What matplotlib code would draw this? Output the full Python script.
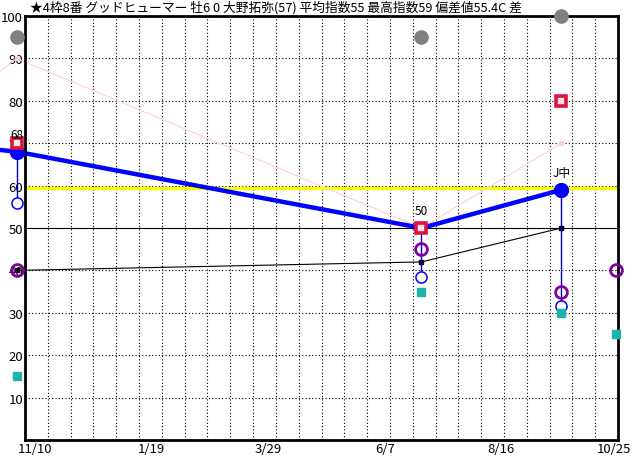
import matplotlib.pyplot as plt
import matplotlib.transforms as mtransforms
import numpy as np

plt.rcParams['font.family'] = ['Noto Sans CJK JP', 'DejaVu Sans']

# day offsets from 11/10
tick_days = [0, 70, 140, 210, 280, 350]
tick_labels = ['11/10', '1/19', '3/29', '6/7', '8/16', '10/25']

race_days = [-11, 232, 316]
idx_main = [68, 50, 59]        # thick blue
idx_low = [56, 38.5, 31.5]     # blue open circles
idx_purple = [40, 45, 35]
idx_black = [40, 42, 50]
idx_teal = [15, 35, 30]
idx_red = [70, 50, 80]
idx_grey = [95, 95, 100]
idx_pink = [90, 50, 70]
race_notes = ['68', '50', 'J中']

prev_days = [-60]
prev_main = [70]
prev_pink = [75]

next_day = 349
next_purple = 40
next_teal = 25

best_line = 59.5

title = '★4枠8番 グッドヒューマー 牡6 0 大野拓弥(57) 平均指数55 最高指数59 偏差値55.4C 差'

fig = plt.figure(figsize=(6.32, 4.60), dpi=100)
ax = fig.add_axes([25/632, 19/460, 593/632, 424/460])
ax.set_xlim(-6, 350)
ax.set_ylim(0, 100)

# grid
for gx in np.linspace(-6, 350, 27)[1:-1]:
    ax.axvline(gx, color='black', lw=0.8, ls=(0, (1, 2)), zorder=1)
for gy in [10, 20, 30, 40, 60, 70, 80, 90]:
    ax.axhline(gy, color='black', lw=0.8, ls=(0, (1, 2)), zorder=1)
ax.axhline(50, color='black', lw=0.8, zorder=1)
ax.axhline(best_line, color='#ffff00', lw=2.4, zorder=2)

kw = dict(clip_on=False)
# pink line
ax.plot(prev_days + race_days, prev_pink + idx_pink, color='#ffd0dc', lw=0.8, zorder=3, **kw)
ax.plot([race_days[0], race_days[2]], [idx_pink[0], idx_pink[2]], ls='none', marker='s',
        ms=3, color='#ffd0dc', zorder=3, **kw)
# black line
ax.plot(race_days, idx_black, color='black', lw=0.8, marker='s', ms=3.5, zorder=4, **kw)
# thin blue verticals
for d, a, b in zip(race_days, idx_main, idx_low):
    ax.plot([d, d], [a, b], color='#0000cc', lw=1.0, zorder=4, **kw)
# thick blue
ax.plot(prev_days + race_days, prev_main + idx_main, color='#0000ff', lw=3.2, zorder=5, **kw)
ax.plot([race_days[0], race_days[2]], [idx_main[0], idx_main[2]], ls='none', marker='o',
        ms=10, color='#0000ff', zorder=6, **kw)
ax.plot(race_days, idx_low, ls='none', marker='o', ms=8, mfc='white', mec='#0000ff',
        mew=1.1, zorder=6, **kw)
ax.plot(race_days + [next_day], idx_purple + [next_purple], ls='none', marker='o', ms=8.5,
        mfc='none', mec='#8000a0', mew=2, zorder=7, **kw)
ax.plot(race_days + [next_day], idx_teal + [next_teal], ls='none', marker='s', ms=6,
        color='#20b2aa', zorder=7, **kw)
ax.plot(race_days, idx_red, ls='none', marker='s', ms=7, mfc='#ffe4ea', mec='#dc143c',
        mew=2.6, zorder=8, **kw)
ax.plot(race_days, idx_grey, ls='none', marker='o', ms=9.5, color='#808080', zorder=8, **kw)

for d, v, t in zip(race_days, idx_main, race_notes):
    ax.text(d, v + 2.6, t, ha='center', va='bottom', fontsize=8.5, zorder=9)

ax.set_xticks(tick_days)
ax.set_xticklabels(tick_labels, fontsize=9.5)
ax.set_yticks(range(10, 101, 10))
ax.set_yticklabels([str(v) for v in range(10, 101, 10)], fontsize=9.5)
ax.tick_params(length=0, pad=1.5)
for s in ax.spines.values():
    s.set_linewidth(2)
    s.set_zorder(5)

# keep the last date label inside the picture
last = ax.get_xticklabels()[-1]
last.set_transform(last.get_transform() +
                   mtransforms.ScaledTranslation(-3/72, 0, fig.dpi_scale_trans))

fig.text(30/632, 1 - 8/460, title, ha='left', va='center', fontsize=9.2)

fig.savefig('out.png', dpi=100, facecolor='white')
